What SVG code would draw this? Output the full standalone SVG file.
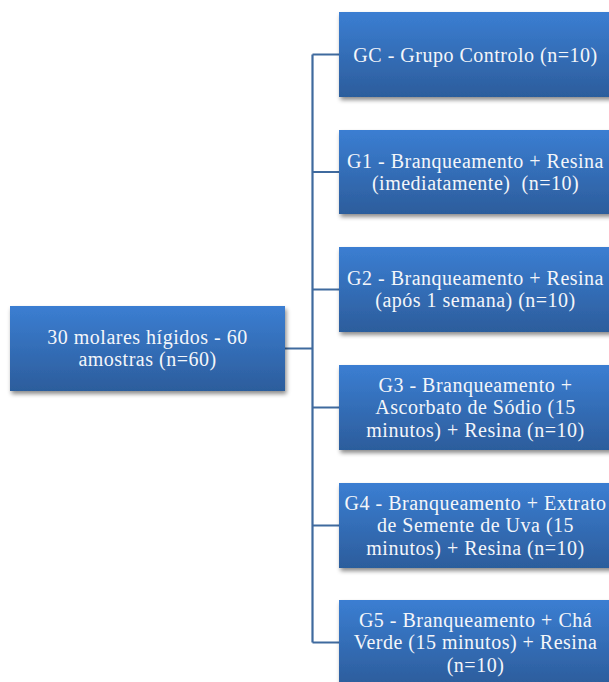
<svg xmlns="http://www.w3.org/2000/svg" width="609" height="682" viewBox="0 0 609 682">
<defs>
<linearGradient id="g" x1="0" y1="0" x2="0" y2="1">
<stop offset="0" stop-color="#3B7ED2"/>
<stop offset="1" stop-color="#2C5D9C"/>
</linearGradient>
<filter id="sh" x="-10%" y="-10%" width="125%" height="135%">
<feDropShadow dx="1.5" dy="3" stdDeviation="2" flood-color="#000" flood-opacity="0.45"/>
</filter>
</defs>
<style>
.box{fill:url(#g);filter:url(#sh);}
text{font-size:20px;letter-spacing:0.5px;fill:#F4F6FA;text-anchor:middle;}
.c{stroke:#3F6A9E;stroke-width:2.2;fill:none;}
</style>
<g id="connectors">
<path class="c" d="M285 348.5 H312.5 M312.5 54.5 V642.5 M312.5 54.5 H339 M312.5 172 H339 M312.5 289.5 H339 M312.5 407.5 H339 M312.5 525.5 H339 M312.5 642.5 H339"/>
</g>
<g font-family="Times New Roman, Times, serif">
<g id="root">
<rect class="box" x="10" y="306" width="275" height="85"/>
<text x="147.5" y="343.5">30 molares hígidos - 60</text>
<text x="147.5" y="366">amostras (n=60)</text>
</g>
<g id="gc">
<rect class="box" x="339" y="12" width="275" height="85"/>
<text x="475.5" y="61.5">GC - Grupo Controlo (n=10)</text>
</g>
<g id="g1">
<rect class="box" x="339" y="130" width="275" height="84"/>
<text x="475.5" y="167.5">G1 - Branqueamento + Resina</text>
<text x="475.5" y="190" xml:space="preserve">(imediatamente)  (n=10)</text>
</g>
<g id="g2">
<rect class="box" x="339" y="247" width="275" height="85"/>
<text x="475.5" y="284.5">G2 - Branqueamento + Resina</text>
<text x="475.5" y="307">(após 1 semana) (n=10)</text>
</g>
<g id="g3">
<rect class="box" x="339" y="365" width="275" height="85"/>
<text x="475.5" y="391.5">G3 - Branqueamento +</text>
<text x="475.5" y="414">Ascorbato de Sódio (15</text>
<text x="475.5" y="436.5">minutos) + Resina (n=10)</text>
</g>
<g id="g4">
<rect class="box" x="339" y="483" width="275" height="85"/>
<text x="475.5" y="509.5">G4 - Branqueamento + Extrato</text>
<text x="475.5" y="532">de Semente de Uva (15</text>
<text x="475.5" y="554.5">minutos) + Resina (n=10)</text>
</g>
<g id="g5">
<rect class="box" x="339" y="600" width="275" height="85"/>
<text x="475.5" y="626.5">G5 - Branqueamento + Chá</text>
<text x="475.5" y="649">Verde (15 minutos) + Resina</text>
<text x="475.5" y="671.5">(n=10)</text>
</g>
</g>
</svg>
